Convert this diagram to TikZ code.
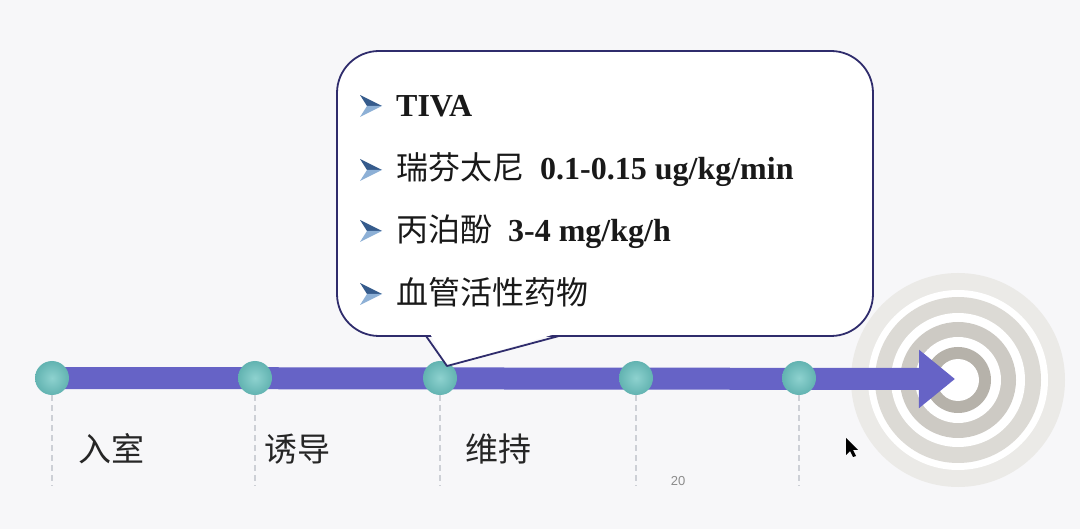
\documentclass[tikz,border=0pt]{standalone}
\usepackage{fontspec}
\setmainfont{Liberation Serif}
\newfontfamily\cjk{Noto Sans CJK SC}
\newfontfamily\pagefont{Liberation Sans}
\usetikzlibrary{positioning, calc}
\usetikzlibrary{arrows.meta}

\definecolor{barblue}{HTML}{6663C6}
\definecolor{dotteal}{HTML}{62B3B1}
\definecolor{dotlight}{HTML}{8ED2CF}
\definecolor{tickgray}{HTML}{CDD0D6}
\definecolor{calloutline}{HTML}{2F2C6C}
\definecolor{bulletdark}{HTML}{355B8C}
\definecolor{bulletlight}{HTML}{8DB0D6}
\definecolor{paper}{HTML}{F7F7F9}
\definecolor{ringa}{HTML}{B6B2AA}
\definecolor{ringb}{HTML}{CDCAC4}
\definecolor{ringc}{HTML}{DCDAD5}
\definecolor{ringd}{HTML}{EBEAE7}

\tikzset{
  dot/.style={circle, minimum size=34pt, inner sep=0pt, shading=radial,
    inner color=dotlight, outer color=dotteal},
  timebar/.style={line width=22pt, barblue, -{Triangle[length=36pt,width=56pt]}},
  tick/.style={draw=tickgray, line width=1.2pt, dash pattern=on 6pt off 4pt},
  stage/.style={anchor=base west, inner sep=0pt, font=\cjk\fontsize{33}{36}\selectfont, text=black!85},
  item/.style={anchor=base west, inner sep=0pt, font=\fontsize{32}{36}\selectfont, text=black!90},
  callout/.style={draw=calloutline, line width=1.8pt, fill=white, outer sep=0pt},
  bullet/.pic={
    \fill[bulletdark] (0,-11) -- (22,0) -- (7,0) -- cycle;
    \fill[bulletlight] (0,11) -- (22,0) -- (7,0) -- cycle;
  }
}

\begin{document}
\begin{tikzpicture}[x=1pt, y=-1pt]
  \fill[paper] (0,0) rectangle (1080,529);
  \useasboundingbox (0,0) rectangle (1080,529);

  % target
  \coordinate (goal) at (958,380);
  \foreach \r/\c in {107/ringd, 90/white, 83/ringc, 67/white, 58/ringb, 43/white, 33/ringa, 21/white}
    \fill[\c] (goal) circle (\r pt);

  % time line
  \coordinate (start) at (52,378);
  \coordinate (tip) at (955,379);
  \draw[timebar] (start) -- (tip);
  \node[dot] (d1) at (start) {};
  \node[dot] (d2) at (255,378) {};
  \node[dot] (d3) at (440,378) {};
  \node[dot] (d4) at (636,378) {};
  \node[dot] (d5) at (799,378) {};
  \foreach \i in {1,...,5}
    \draw[tick] (d\i.south) -- ++(0,91);

  \node[stage] (s1) at (78,461) {入室};
  \node[stage] (s2) at (264,461) {诱导};
  \node[stage] (s3) at (465,461) {维持};
  \node[font=\pagefont\fontsize{13}{15}\selectfont, text=black!45] (page) at (678,481) {20};

  % callout
  \node[callout, rounded corners=42pt, minimum width=536pt, minimum height=285pt, inner sep=0pt]
    (box) at (605,193.5) {};
  \coordinate (pin) at (447,366);
  \fill[white] ($(box.south)+(-175,-2.5)$) -- (pin) -- ($(box.south)+(-48,-2.5)$) -- cycle;
  \draw[calloutline, line width=1.8pt, line join=round]
    ($(box.south)+(-179,0)$) -- (pin) -- ($(box.south)+(-46,0)$);

  \pic at (360,106) {bullet};
  \pic at (360,170) {bullet};
  \pic at (360,231) {bullet};
  \pic at (360,294) {bullet};
  \node[item] (i1) at (396,117) {\textbf{TIVA}};
  \node[item] (i2) at (396,180) {{\cjk 瑞芬太尼}\hspace{16pt}\textbf{0.1-0.15 ug/kg/min}};
  \node[item] (i3) at (396,242) {{\cjk 丙泊酚}\hspace{16pt}\textbf{3-4 mg/kg/h}};
  \node[item] (i4) at (396,305) {{\cjk 血管活性药物}};

  % mouse pointer
  \fill[black] (846,438) -- (846,455) -- (850,451) -- (853,457) -- (856,456) -- (853,450) -- (858,450) -- cycle;
\end{tikzpicture}
\end{document}
